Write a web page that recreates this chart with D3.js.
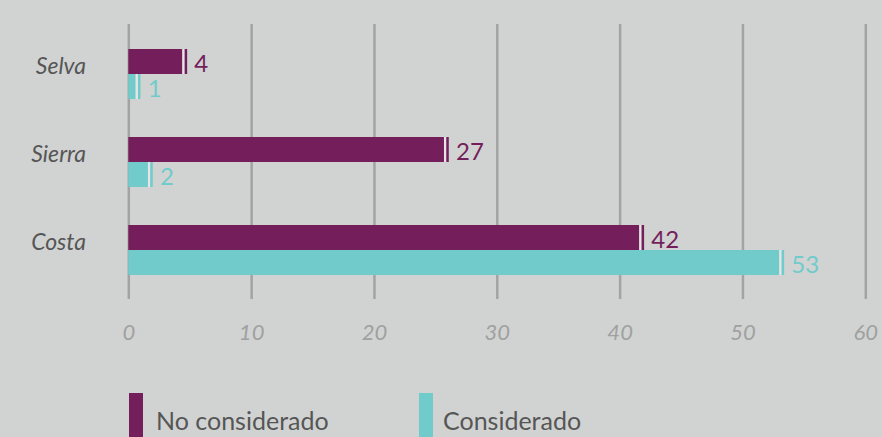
<!DOCTYPE html>
<html><head><meta charset="utf-8">
<script src="https://cdn.jsdelivr.net/npm/d3@7"></script>
<style>
html,body{margin:0;padding:0;background:#d1d3d2;}
svg{display:block;}
text{font-family:Lato,"Open Sans",sans-serif;}
</style></head>
<body><svg id="c" width="882" height="437"></svg>
<script>
const categories = ["Selva", "Sierra", "Costa"];
const seriesNames = ["No considerado", "Considerado"];
const noConsiderado = [4.4, 25.7, 41.6];
const considerado = [0.6, 1.6, 53.0];
const noConsideradoLabels = ["4", "27", "42"];
const consideradoLabels = ["1", "2", "53"];
const xTicks = [0, 10, 20, 30, 40, 50, 60];
const colors = ["#741f5c", "#71cbcb"];

const svg = d3.select("#c");
const x = d3.scaleLinear().domain([0, 60]).range([128.3, 865.3]);
const y = d3.scaleBand().domain(categories).range([30, 294]);
const inner = d3.scaleBand().domain([0, 1]).range([y.bandwidth()/2 - 25, y.bandwidth()/2 + 25]);

// gridlines
const axis = d3.axisBottom(x).tickValues(xTicks).tickSize(275).tickFormat(d => d);
const g = svg.append("g").attr("transform", "translate(0,24)").call(axis);
g.select(".domain").remove();
g.selectAll(".tick line").attr("stroke", "#a3a3a3").attr("stroke-width", 2.5);
g.selectAll(".tick text").attr("y", 316).attr("dy", 0)
  .attr("fill", "#a0a0a0").attr("font-style", "italic").attr("font-size", 22);

const series = [noConsiderado, considerado];
const labels = [noConsideradoLabels, consideradoLabels];
series.forEach((vals, si) => {
  const grp = svg.append("g");
  categories.forEach((c, i) => {
    const y0 = y(c) + inner(si);
    const h = inner.bandwidth();
    const xe = x(vals[i]);
    grp.append("rect").attr("x", x(0)).attr("y", y0).attr("width", xe - x(0)).attr("height", h).attr("fill", colors[si]);
    grp.append("rect").attr("x", xe).attr("y", y0).attr("width", 2.3).attr("height", h).attr("fill", "#e4e6e5");
    grp.append("rect").attr("x", xe + 2.3).attr("y", y0).attr("width", 2.5).attr("height", h).attr("fill", colors[si]);
    grp.append("text").attr("x", xe + 12).attr("y", y0 + h/2 + 10)
      .attr("fill", colors[si]).attr("font-size", 24).text(labels[si][i]);
  });
});

// category labels
categories.forEach(c => {
  svg.append("text").attr("x", 86).attr("y", y(c) + y.bandwidth()/2)
    .attr("text-anchor", "end").attr("font-style", "italic").attr("font-size", 23)
    .attr("fill", "#565656").text(c);
});

// legend
const legX = [129, 419];
const legTX = [156, 443];
seriesNames.forEach((n, i) => {
  svg.append("rect").attr("x", legX[i]).attr("y", 393).attr("width", 14).attr("height", 50).attr("fill", colors[i]);
  svg.append("text").attr("x", legTX[i]).attr("y", 430).attr("font-size", 25).attr("fill", "#565656").text(n);
});
</script></body></html>
